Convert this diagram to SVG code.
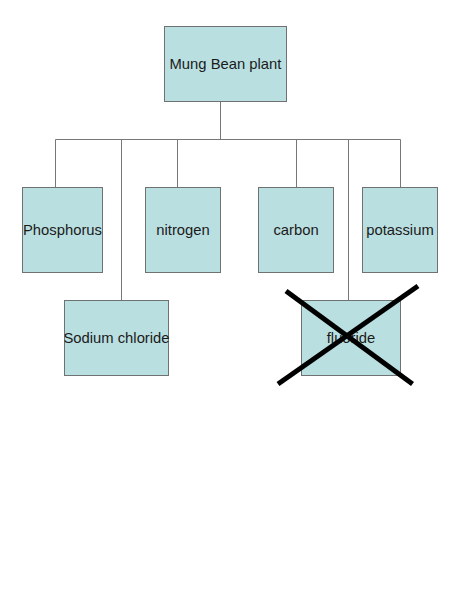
<svg xmlns="http://www.w3.org/2000/svg" width="450" height="600" viewBox="0 0 450 600">
<style>
.box{fill:#badfe1;stroke:#6e7272;stroke-width:1}
.lbl{font-family:"Liberation Sans",Arial,sans-serif;font-size:14.8px;fill:#1a1a1a;text-anchor:middle;dominant-baseline:central}
.conn{stroke:#777;stroke-width:1;fill:none}
.cross{stroke:#000;stroke-width:5;stroke-linecap:butt}
</style>
<rect width="450" height="600" fill="#fff"/>
<g id="connectors">
<path class="conn" d="M220.5,102V139.5M55.5,139.5H400.5M55.5,139.5V187M121.5,139.5V300M177.5,139.5V187M296.5,139.5V187M348.5,139.5V300M400.5,139.5V187"/>
</g>
<g id="mung"><rect class="box" x="164.5" y="26.5" width="122" height="75"/><text class="lbl" x="225.5" y="64">Mung Bean plant</text></g>
<g id="phosphorus"><rect class="box" x="22.5" y="187.5" width="80" height="85"/><text class="lbl" x="62.5" y="229.5">Phosphorus</text></g>
<g id="nitrogen"><rect class="box" x="145.5" y="187.5" width="75" height="85"/><text class="lbl" x="183" y="229.5">nitrogen</text></g>
<g id="carbon"><rect class="box" x="258.5" y="187.5" width="75" height="85"/><text class="lbl" x="296" y="229.5">carbon</text></g>
<g id="potassium"><rect class="box" x="362.5" y="187.5" width="75" height="85"/><text class="lbl" x="400" y="229.5">potassium</text></g>
<g id="sodium"><rect class="box" x="64.5" y="300.5" width="104" height="75"/><text class="lbl" x="116.5" y="338">Sodium chloride</text></g>
<g id="fluoride"><rect class="box" x="301.5" y="300.5" width="99" height="75"/><text class="lbl" x="351" y="338">fluoride</text>
<line class="cross" x1="286" y1="291" x2="412.5" y2="384"/>
<line class="cross" x1="418" y1="286" x2="278" y2="384"/>
</g>
</svg>
